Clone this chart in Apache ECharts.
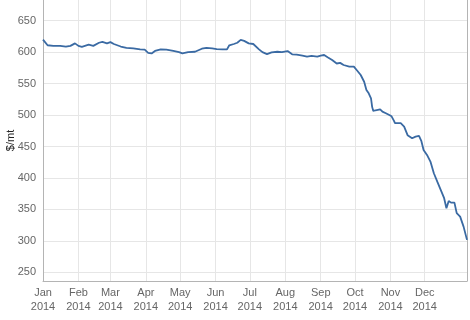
<!DOCTYPE html>
<html>
<head>
<meta charset="utf-8">
<script src="https://cdn.jsdelivr.net/npm/echarts@6/dist/echarts.min.js"></script>
<style>html,body{margin:0;padding:0;background:#fff}#c{width:470px;height:320px}</style>
</head>
<body>
<div id="c"></div>
<script>
const dates = ['2014-01-01','2014-01-05','2014-01-10','2014-01-16','2014-01-21','2014-01-25','2014-01-29','2014-02-01','2014-02-04','2014-02-10','2014-02-14','2014-02-19','2014-02-22','2014-02-26','2014-03-01','2014-03-04','2014-03-10','2014-03-15','2014-03-21','2014-03-27','2014-03-31','2014-04-03','2014-04-06','2014-04-09','2014-04-14','2014-04-19','2014-04-25','2014-04-30','2014-05-03','2014-05-08','2014-05-14','2014-05-20','2014-05-24','2014-05-29','2014-06-02','2014-06-07','2014-06-11','2014-06-13','2014-06-17','2014-06-20','2014-06-23','2014-06-26','2014-06-30','2014-07-04','2014-07-09','2014-07-12','2014-07-16','2014-07-20','2014-07-25','2014-07-29','2014-08-03','2014-08-04','2014-08-07','2014-08-11','2014-08-16','2014-08-20','2014-08-24','2014-08-29','2014-09-01','2014-09-04','2014-09-07','2014-09-11','2014-09-15','2014-09-18','2014-09-21','2014-09-26','2014-09-30','2014-10-03','2014-10-06','2014-10-09','2014-10-11','2014-10-13','2014-10-15','2014-10-16','2014-10-17','2014-10-19','2014-10-20','2014-10-23','2014-10-25','2014-10-28','2014-10-31','2014-11-02','2014-11-04','2014-11-05','2014-11-10','2014-11-13','2014-11-16','2014-11-20','2014-11-23','2014-11-26','2014-11-28','2014-11-30','2014-12-03','2014-12-06','2014-12-09','2014-12-12','2014-12-15','2014-12-18','2014-12-20','2014-12-22','2014-12-24','2014-12-27','2014-12-29','2015-01-01','2015-01-04','2015-01-07'];
const prices = [620,611,610,610,608.7,610,614,610,608.5,612,610,615,616.5,614,616,613,609,607,606,604.5,604,599,598,602,604.5,604,602,600,598,600,600.7,605.5,607,606,605,604.5,604.5,611,613,615,619.5,618,614,613,604.5,600,597,599.8,600.7,600,601.8,599.8,596.6,596,594.6,593,594,593,594.6,595.5,592,587.6,582,583,579.6,577,577,570.5,563.7,553,540,534.6,526.7,513,506.5,507.6,506.5,509,505.4,502.8,500,498,491,487,487,481.5,468,463,465.6,466.7,459,444.5,436.5,426,407.4,394,381,367.7,351.7,363.4,360.7,360.7,344,338.4,322.5,301.4];
const monthTicks = ['2014-01-01','2014-02-01','2014-03-01','2014-04-01','2014-05-01','2014-06-01','2014-07-01','2014-08-01','2014-09-01','2014-10-01','2014-11-01','2014-12-01'];
const monthNames = ['Jan','Feb','Mar','Apr','May','Jun','Jul','Aug','Sep','Oct','Nov','Dec'];
const yTicks = [250,300,350,400,450,500,550,600,650];
const yName = '$/mt';

const toTs = s => { const p = s.split('-').map(Number); return Date.UTC(p[0], p[1]-1, p[2]); };
const monthTs = monthTicks.map(toTs);
const FONT = 'Liberation Sans, Arial, sans-serif';

const chart = echarts.init(document.getElementById('c'), null, {renderer:'canvas'});
chart.setOption({
  animation:false,
  grid:{left:43, right:3, top:0, bottom:39, containLabel:false, outerBoundsMode:'none'},
  xAxis:{
    type:'value',
    min: toTs('2014-01-01'),
    max: toTs('2015-01-07'),
    axisLine:{show:true, lineStyle:{color:'#b4b4b4', width:1}},
    axisTick:{show:false, customValues: monthTs},
    splitLine:{show:true, lineStyle:{color:'#e6e6e6', width:1}},
    axisLabel:{
      customValues: monthTs,
      color:'#666', fontSize:11, fontFamily:FONT,
      lineHeight:14, margin:5, hideOverlap:false,
      formatter: v => { const d = new Date(v); return monthNames[d.getUTCMonth()] + '\n' + d.getUTCFullYear(); }
    }
  },
  yAxis:[{
    type:'value',
    min:236, max:683,
    name: yName, nameLocation:'middle', nameGap:27, nameRotate:90, nameMoveOverlap:false,
    nameTextStyle:{color:'#222', fontSize:11, fontFamily:FONT},
    axisLine:{show:true, lineStyle:{color:'#b4b4b4', width:1}},
    axisTick:{show:false, customValues: yTicks},
    splitLine:{show:true, lineStyle:{color:'#e6e6e6', width:1}},
    axisLabel:{customValues: yTicks, color:'#666', fontSize:11, margin:7, fontFamily:FONT}
  },{
    type:'value', position:'right', min:236, max:683,
    axisLine:{show:true, lineStyle:{color:'#b4b4b4', width:1}},
    axisTick:{show:false}, axisLabel:{show:false}, splitLine:{show:false}
  }],
  series:[{
    type:'line',
    data: dates.map((d,i) => [toTs(d), prices[i]]),
    showSymbol:false,
    lineStyle:{color:'#3a6aa3', width:1.8},
    itemStyle:{color:'#3a6aa3'}
  }]
});
</script>
</body>
</html>
